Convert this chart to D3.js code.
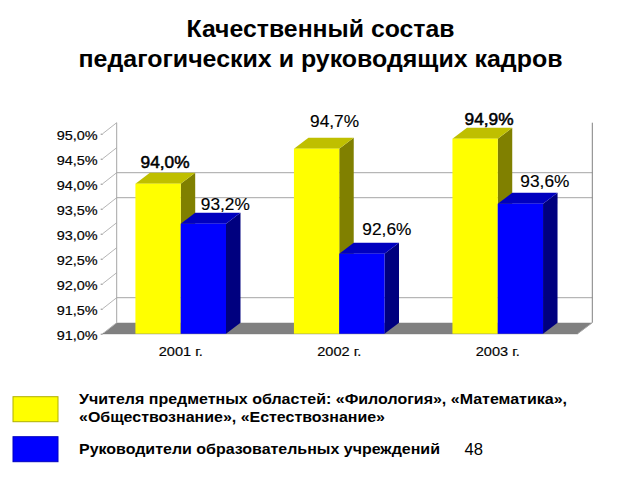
<!DOCTYPE html>
<html><head><meta charset="utf-8">
<script src="https://cdn.jsdelivr.net/npm/d3@7"></script>
<style>html,body{margin:0;padding:0;background:#fff}svg{display:block}text{font-family:"Liberation Sans",Arial,sans-serif;fill:#000}</style>
</head><body><svg id="c" width="640" height="480"></svg>
<script>
const titleLines = ["Качественный состав", "педагогических и руководящих кадров"];
const years = ["2001 г.", "2002 г.", "2003 г."];
const seriesNames = [
  "Учителя предметных областей: «Филология», «Математика»,\n«Обществознание», «Естествознание»",
  "Руководители образовательных учреждений"
];
const teachers = [94.0, 94.7, 94.9];
const leaders = [93.2, 92.6, 93.6];
const yTicks = [91, 91.5, 92, 92.5, 93, 93.5, 94, 94.5, 95];
const visibleGrid = [91.5, 93.5, 94];
const pageNumber = "48";

// layout
const DX = 14, DY = 11, DBX = 14.5;
const fmt = v => v.toFixed(1).replace(".", ",") + "%";
const svg = d3.select("#c");
const y = d3.scaleLinear().domain([91, 95]).range([333.7, 133.7]);
const x = d3.scaleBand().domain(years).range([101.45, 577]);
const inner = d3.scaleBand().domain([0, 1]).range([0, x.bandwidth()]).paddingInner(0).paddingOuter(0.75);
const left = 102.7, right = 577.7;

// title
const titleWidths = [268, 484];
svg.append("g").selectAll("text").data(titleLines).join("text")
  .attr("x", 320.5).attr("y", (d, i) => 36.5 + i * 30.5)
  .attr("text-anchor", "middle").attr("font-size", 23).attr("font-weight", "bold")
  .attr("textLength", (d, i) => titleWidths[i]).attr("lengthAdjust", "spacingAndGlyphs")
  .attr("fill", "#111").text(d => d);

// walls
const walls = svg.append("g");
walls.append("path").attr("fill", "#808080")
  .attr("d", d3.line()([[left, y(91)], [left + DX, y(91) - DY], [right + DX + .6, y(91) - DY], [right, y(91)]]) + "Z");
walls.selectAll(".grid").data(visibleGrid).join("line").attr("class", "grid")
  .attr("x1", left + DX).attr("x2", right + DX + .6)
  .attr("y1", d => y(d) - DY).attr("y2", d => y(d) - DY)
  .attr("stroke", "#a6a6a6").attr("stroke-width", 1);
walls.selectAll(".side").data(yTicks).join("line").attr("class", "side")
  .attr("x1", left).attr("x2", left + DX)
  .attr("y1", d => y(d)).attr("y2", d => y(d) - DY)
  .attr("stroke", "#b5b5b5").attr("stroke-width", 1);
walls.append("line").attr("x1", left + DX).attr("x2", left + DX)
  .attr("y1", y(95) - DY).attr("y2", y(91) - DY).attr("stroke", "#a6a6a6");
walls.append("line").attr("x1", right + DX + .6).attr("x2", right + DX + .6)
  .attr("y1", y(95) - DY).attr("y2", y(91) - DY).attr("stroke", "#808080");
walls.append("line").attr("x1", right + DX + .6).attr("x2", right)
  .attr("y1", y(91) - DY).attr("y2", y(91)).attr("stroke", "#a6a6a6");
walls.append("line").attr("x1", left).attr("x2", right)
  .attr("y1", y(91)).attr("y2", y(91)).attr("stroke", "#777");

// axes
const ay = svg.append("g").attr("transform", `translate(${left},0)`)
  .call(d3.axisLeft(y).tickValues(yTicks).tickFormat(fmt).tickSize(2).tickPadding(3));
ay.select(".domain").remove();
ay.selectAll("line").attr("stroke", "#888");
ay.selectAll("text").attr("font-size", 13).attr("font-family", '"Liberation Sans"').attr("dy", "0.42em")
  .attr("textLength", 41).attr("lengthAdjust", "spacingAndGlyphs")
  .attr("fill", "#111").attr("stroke", "#111").attr("stroke-width", .2);
const ax = svg.append("g").attr("transform", `translate(0,${y(91)})`)
  .call(d3.axisBottom(x).tickSize(0).tickPadding(13));
ax.select(".domain").remove();
ax.selectAll("text").attr("font-size", 13).attr("font-family", '"Liberation Sans"')
  .attr("textLength", 44).attr("lengthAdjust", "spacingAndGlyphs")
  .attr("fill", "#111").attr("stroke", "#111").attr("stroke-width", .2);

// bars
const palette = [
  { front: "#ffff00", top: "#bfbf00", side: "#808000", edge: "#b0b000" },
  { front: "#0000ff", top: "#0000bf", side: "#00007f", edge: "#0000c0" }
];
const rows = [];
years.forEach((yr, i) => [teachers[i], leaders[i]].forEach((v, s) => rows.push({ yr, v, s })));
const bw = inner.bandwidth();
const bars = svg.append("g").selectAll("g").data(rows).join("g")
  .attr("transform", d => `translate(${x(d.yr) + inner(d.s)},0)`);
bars.append("path").attr("fill", d => palette[d.s].side)
  .attr("d", d => d3.line()([[bw, y(d.v)], [bw + DBX, y(d.v) - DY], [bw + DBX, y(91) - DY], [bw, y(91)]]) + "Z");
bars.append("path").attr("fill", d => palette[d.s].top)
  .attr("d", d => d3.line()([[0, y(d.v)], [DBX, y(d.v) - DY], [bw + DBX, y(d.v) - DY], [bw, y(d.v)]]) + "Z");
bars.append("rect").attr("x", 0).attr("width", bw)
  .attr("y", d => y(d.v)).attr("height", d => y(91) - y(d.v))
  .attr("fill", d => palette[d.s].front);

// value labels (hand placed offsets, as in the original)
const labelShift = [[7, -5], [22, -3], [18, -11], [25, -8], [14, -3], [24.5, -6]];
const boldLabels = [0, 4];
svg.append("g").selectAll("text").data(rows).join("text")
  .attr("x", (d, i) => x(d.yr) + inner(d.s) + bw / 2 + labelShift[i][0])
  .attr("y", (d, i) => y(d.v) - DY + labelShift[i][1])
  .attr("text-anchor", "middle").attr("font-size", 16)
  .attr("textLength", 49).attr("lengthAdjust", "spacingAndGlyphs")
  .attr("stroke", "#000").attr("stroke-width", (d, i) => boldLabels.includes(i) ? .5 : .15)
  .text(d => fmt(d.v));

// legend
const legendBoxes = [396.7, 436.7];
const lg = svg.append("g");
lg.selectAll("rect").data(palette).join("rect")
  .attr("x", 13).attr("width", 45).attr("height", 25)
  .attr("y", (d, i) => legendBoxes[i])
  .attr("fill", d => d.front).attr("stroke", d => d.edge);
const legendLines = [[seriesNames[0].split("\n")[0], 404, 488], [seriesNames[0].split("\n")[1], 422, 306], [seriesNames[1], 454, 361]];
lg.selectAll("text").data(legendLines).join("text")
  .attr("x", 79).attr("y", d => d[1]).attr("font-size", 14.5).attr("font-weight", "bold")
  .attr("textLength", d => d[2]).attr("lengthAdjust", "spacingAndGlyphs")
  .attr("fill", "#222").text(d => d[0]);

svg.append("text").attr("x", 464.5).attr("y", 454.5).attr("font-size", 16.5)
  .attr("textLength", 18.5).attr("lengthAdjust", "spacingAndGlyphs").attr("fill", "#444").text(pageNumber);
</script></body></html>
